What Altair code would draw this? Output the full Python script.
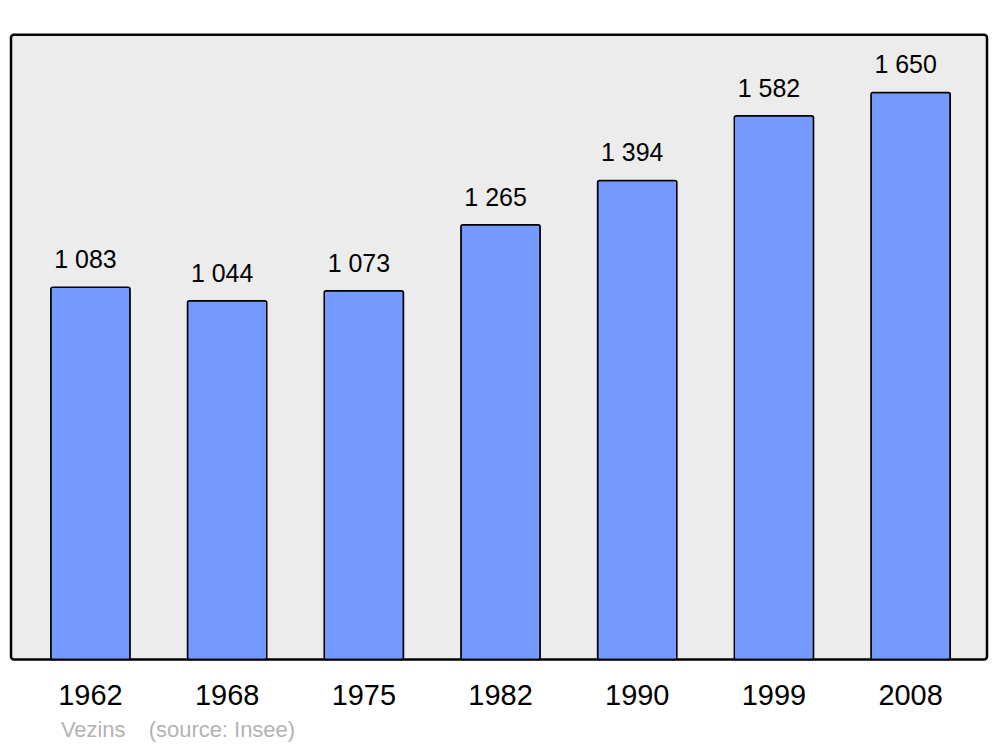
import altair as alt
import pandas as pd

years = ["1962", "1968", "1975", "1982", "1990", "1999", "2008"]
population = [1083, 1044, 1073, 1265, 1394, 1582, 1650]
labels = ["1 083", "1 044", "1 073", "1 265", "1 394", "1 582", "1 650"]

df = pd.DataFrame({"year": years, "pop": population, "label": labels})

FONT = "Liberation Sans"

x = alt.X("year:N", sort=years, title=None,
          scale=alt.Scale(paddingInner=0.42, paddingOuter=0.28, align=0.52),
          axis=alt.Axis(labelAngle=0, ticks=False, domain=False, labelPadding=22,
                        labelFontSize=29, labelFont=FONT, labelColor="black", grid=False))
y = alt.Y("pop:Q", title=None, scale=alt.Scale(domain=[0, 1818], nice=False, zero=True),
          axis=None)

base = alt.Chart(df)

bars = base.mark_bar(color="#7499ff", stroke="black", strokeWidth=1.5,
                     cornerRadius=2).encode(x=x, y=y)

text = base.mark_text(dy=-19, dx=-5, baseline="alphabetic", fontSize=25, font=FONT,
                      color="black").encode(x=x, y=y, text="label:N")

note1 = alt.Chart(pd.DataFrame({"t": ["Vezins"]})).mark_text(
    align="left", baseline="alphabetic", fontSize=22, font=FONT, color="#b3b3b3"
).encode(x=alt.value(50), y=alt.value(704), text="t:N")

note2 = alt.Chart(pd.DataFrame({"t": ["(source: Insee)"]})).mark_text(
    align="left", baseline="alphabetic", fontSize=22, font=FONT, color="#b3b3b3"
).encode(x=alt.value(138), y=alt.value(704), text="t:N")

chart = alt.layer(bars, text, note1, note2).properties(
    width=978, height=626,
    autosize=alt.AutoSizeParams(type="none"),
    padding={"left": 3, "top": 26, "right": 5, "bottom": 86},
    background="white",
).configure_view(
    stroke="black", strokeWidth=2.5, fill="#ececec", cornerRadius=3
)

chart.save("out.html", embed_options={"renderer": "svg", "actions": False})
